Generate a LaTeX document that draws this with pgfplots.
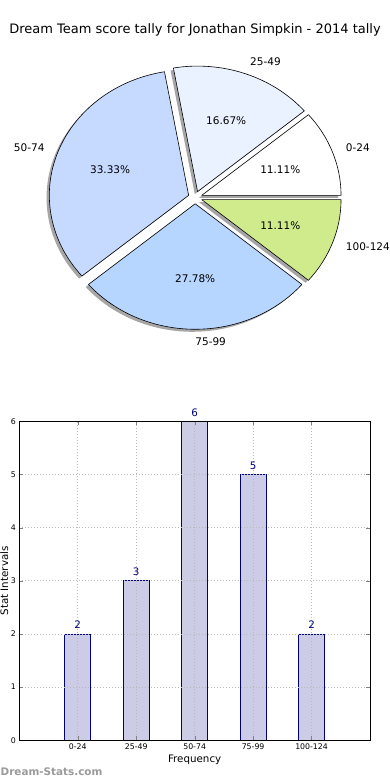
\documentclass[border=0pt]{standalone}
\usepackage{pgfplots}
\pgfplotsset{compat=1.18}
\usepackage{fontspec}
\setmainfont{DejaVu Sans}
\definecolor{pieA}{HTML}{FFFFFF}
\definecolor{pieB}{HTML}{EBF2FF}
\definecolor{pieC}{HTML}{C6D9FF}
\definecolor{pieD}{HTML}{B6D5FF}
\definecolor{pieE}{HTML}{CFEB8C}
\definecolor{barfill}{HTML}{CCCCE6}
\definecolor{navy}{HTML}{000080}
\definecolor{wm}{HTML}{9A9A9A}
% #1 cumulative count before slice, #2 count, #3 colour (total = 18 -> 20 deg per unit)
\newcommand\pieslice[3]{%
  \fill[black,fill opacity=0.35] (axis cs:{0.05*cos(20*(#1+#2/2))-0.02},{0.05*sin(20*(#1+#2/2))-0.02}) -- ++({20*#1}:139.3pt and 125.5pt) arc[start angle={20*#1},end angle={20*(#1+#2)},x radius=139.3pt,y radius=125.5pt] -- cycle;
  \filldraw[fill=#3,draw=black,line width=0.6pt,line join=round] (axis cs:{0.05*cos(20*(#1+#2/2))},{0.05*sin(20*(#1+#2/2))}) -- ++({20*#1}:139.3pt and 125.5pt) arc[start angle={20*#1},end angle={20*(#1+#2)},x radius=139.3pt,y radius=125.5pt] -- cycle;
}
% #1 cumulative, #2 count, #3 anchor, #4 label, #5 pct
\newcommand\pielabel[5]{%
  \node[anchor=#3,inner sep=0pt,font=\fontsize{10.5}{12}\selectfont] at (axis cs:{1.15*cos(20*(#1+#2/2))},{1.15*sin(20*(#1+#2/2))}) {#4};
  \node[anchor=center,inner sep=0pt,font=\fontsize{10.5}{12}\selectfont] at (axis cs:{0.65*cos(20*(#1+#2/2))},{0.65*sin(20*(#1+#2/2))}) {#5};
}
\begin{document}
\begin{tikzpicture}
\path[use as bounding box] (0,0) rectangle (390pt,780pt);
\node[font=\fontsize{13}{15}\selectfont] at (195pt,750pt) {Dream Team score tally for Jonathan Simpkin - 2014 tally};
% Pie
\begin{axis}[at={(195.2pt,582.5pt)},anchor=center,scale only axis,
  width=390.04pt,height=351.4pt,xmin=-1.4,xmax=1.4,ymin=-1.4,ymax=1.4,
  hide axis,clip=false]
\addplot[draw=none] coordinates {(0,0)};
\pieslice{0}{2}{pieA}
\pieslice{2}{3}{pieB}
\pieslice{5}{6}{pieC}
\pieslice{11}{5}{pieD}
\pieslice{16}{2}{pieE}
\pielabel{0}{2}{west}{0-24}{11.11\%}
\pielabel{2}{3}{west}{25-49}{16.67\%}
\pielabel{5}{6}{east}{50-74}{33.33\%}
\pielabel{11}{5}{west}{75-99}{27.78\%}
\pielabel{16}{2}{west}{100-124}{11.11\%}
\end{axis}
% Bars
\begin{axis}[at={(19.3pt,39.7pt)},anchor=south west,scale only axis,
  width=350.7pt,height=319pt,xmin=-1,xmax=5,ymin=0,ymax=6,
  xtick={0,1,2,3,4},xticklabels={0-24,25-49,50-74,75-99,100-124},
  ytick={0,1,2,3,4,5,6},
  /pgf/number format/assume math mode=true,
  tick label style={font=\fontsize{7.8}{9}\selectfont},
  tick align=inside,major tick length=4pt,
  grid=major,grid style={gray!55,line width=0.7pt,dash pattern=on 0.8pt off 2.2pt},
  axis on top,
  axis line style={line width=0.8pt},
  xlabel={Frequency},ylabel={Stat Intervals},
  label style={font=\fontsize{10.3}{12}\selectfont},
  xlabel style={at={(axis description cs:0.5,0)},anchor=center,yshift=-20pt},
  ylabel style={at={(axis description cs:0,0.5)},anchor=center,xshift=0pt,yshift=15pt},
  nodes near coords,
  every node near coord/.append style={font=\fontsize{10.3}{12}\selectfont,text=navy,anchor=base,yshift=5pt,inner sep=0pt},
  clip=false]
\addplot[ybar,bar width=0.44,fill=barfill,draw=navy,line width=0.8pt] coordinates {(0,2) (1,3) (2,6) (3,5) (4,2)};
\end{axis}
\node[anchor=base west,inner sep=0pt,font=\fontsize{10.4}{12}\selectfont\bfseries,text=wm] at (0.5pt,4.3pt) {Dream-Stats.com};
\end{tikzpicture}
\end{document}
